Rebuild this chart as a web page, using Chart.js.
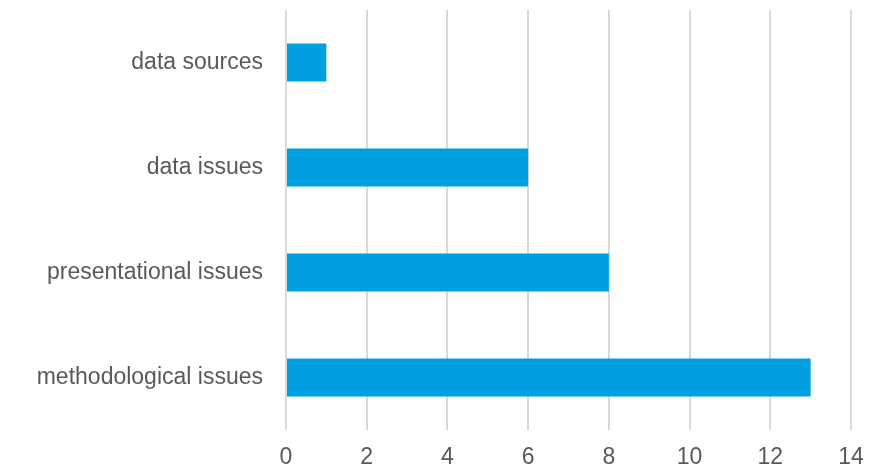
<!DOCTYPE html>
<html>
<head>
<meta charset="utf-8">
<script src="https://cdn.jsdelivr.net/npm/chart.js@4/dist/chart.umd.min.js"></script>
<style>
  html, body { margin: 0; padding: 0; background: #fff; }
  #wrap { width: 869px; height: 469px; }
</style>
</head>
<body>
<div id="wrap"><canvas id="chart" width="869" height="469"></canvas></div>
<script>
// categories, top to bottom
const categories = ['data sources', 'data issues', 'presentational issues', 'methodological issues'];
const counts = [1, 6, 8, 13];
const xTicks = [0, 2, 4, 6, 8, 10, 12, 14];

const tickFont = { family: 'Liberation Sans, Arial', size: 23 };

const ctx = document.getElementById('chart').getContext('2d');
new Chart(ctx, {
    type: 'bar',
    data: {
        labels: categories,
        datasets: [{
            data: counts,
            backgroundColor: '#009FDF',
            borderWidth: 0,
            barPercentage: 0.36,
            categoryPercentage: 1
        }]
    },
    options: {
        indexAxis: 'y',
        responsive: false,
        animation: false,
        layout: { padding: { top: 10, right: 18, left: 0, bottom: 0 } },
        plugins: { legend: { display: false }, tooltip: { enabled: false } },
        scales: {
            x: {
                min: xTicks[0],
                max: xTicks[xTicks.length - 1],
                afterBuildTicks: axis => { axis.ticks = xTicks.map(v => ({ value: v })); },
                afterFit: axis => {
                    axis.height = 39;
                    axis.paddingLeft = 0;
                    axis.paddingRight = 0;
                },
                grid: { color: '#d9d9d9', lineWidth: 2, drawTicks: false },
                border: { display: false },
                ticks: { color: '#595959', font: tickFont, padding: 14 }
            },
            y: {
                afterFit: axis => {
                    axis.width = 286;
                    axis.paddingTop = 0;
                    axis.paddingBottom = 0;
                },
                grid: { display: false, drawTicks: false },
                border: { display: false },
                ticks: { color: '#595959', font: tickFont, padding: 23 }
            }
        }
    }
});
</script>
</body>
</html>
